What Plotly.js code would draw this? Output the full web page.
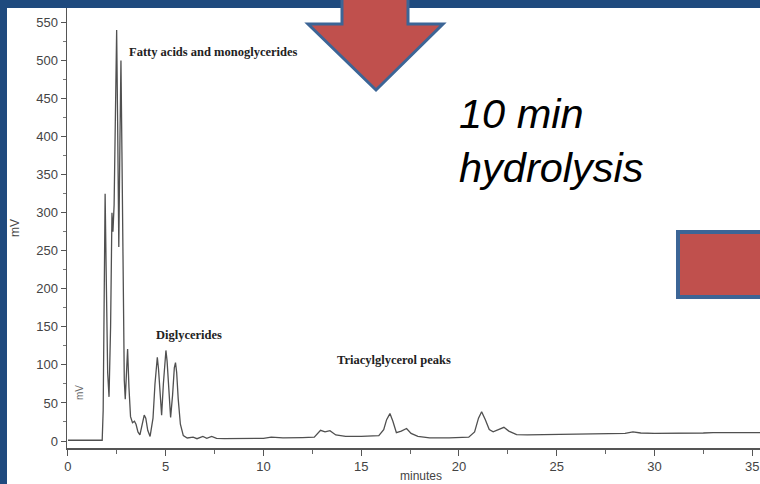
<!DOCTYPE html>
<html>
<head>
<meta charset="utf-8">
<script src="https://cdn.plot.ly/plotly-3.0.1.min.js"></script>
<style>
html,body{margin:0;padding:0;background:#ffffff;}
#chart{width:760px;height:484px;}
</style>
</head>
<body>
<div id="chart"></div>
<script>
// Retention time (minutes)
const timeMin = [0, 1.0, 1.2, 1.75, 1.8, 1.86, 1.9, 1.95, 2.03, 2.1, 2.18, 2.25, 2.3, 2.36, 2.42, 2.49, 2.54, 2.6, 2.66, 2.71, 2.76, 2.82, 2.88, 2.93, 3.0, 3.05, 3.12, 3.2, 3.3, 3.4, 3.48, 3.58, 3.68, 3.8, 3.9, 3.98, 4.08, 4.2, 4.35, 4.45, 4.52, 4.57, 4.63, 4.7, 4.79, 4.88, 4.96, 5.01, 5.07, 5.15, 5.25, 5.35, 5.44, 5.5, 5.56, 5.64, 5.75, 5.9, 6.1, 6.4, 6.6, 6.9, 7.1, 7.35, 7.6, 8.0, 9.0, 10.0, 10.4, 11.0, 12.0, 12.6, 12.92, 13.15, 13.4, 13.7, 14.2, 15.0, 15.9, 16.15, 16.3, 16.47, 16.62, 16.8, 17.05, 17.32, 17.55, 17.9, 18.5, 19.5, 20.5, 20.8, 21.0, 21.16, 21.35, 21.55, 21.75, 22.05, 22.3, 22.55, 22.95, 23.5, 25, 27, 28.5, 28.9, 29.3, 30, 31, 32.5, 33, 34, 35.4];
// Detector signal (mV)
const signalMV = [1, 1, 1.5, 1, 40, 280, 325, 230, 90, 58, 150, 300, 275, 310, 430, 540, 420, 255, 400, 500, 380, 200, 80, 55, 100, 121, 70, 32, 24, 26, 22, 12, 8, 20, 34, 30, 14, 6, 30, 75, 102, 110, 95, 60, 34, 75, 112, 119, 105, 65, 31, 60, 96, 103, 90, 55, 22, 7, 4, 5, 3, 6, 3.5, 6, 3.5, 3, 3, 3.5, 5, 4, 4.5, 5, 14, 12, 13.5, 8, 6, 6, 7, 15, 28, 36, 26, 11, 13, 16.5, 10, 6, 4, 4, 5, 12, 30, 38.5, 28, 15, 12, 15, 18, 13, 8.5, 8, 8.5, 9, 10, 12, 10.5, 10, 10, 10.5, 11, 11, 11];

const xTickVals = [0, 5, 10, 15, 20, 25, 30, 35];
const yTickVals = [0, 50, 100, 150, 200, 250, 300, 350, 400, 450, 500, 550];

const peakLabels = ["Fatty acids and monoglycerides", "Diglycerides", "Triacylglycerol peaks"];
const peakLabelX = [7.45, 6.2, 16.7];
const peakLabelY = [511, 139, 106];

const blue = "#1F4A7E";
const outline = "#3C6596";
const red = "#C0504D";

function px2x(p){ return (p - 67) / 693; }
function py2y(p){ return (448 - p) / 440; }

const trace = {
  x: timeMin, y: signalMV, type: "scatter", mode: "lines",
  line: {color: "#505050", width: 1.3}, hoverinfo: "skip"
};

const annotations = peakLabels.map((t, i) => ({
  text: "<b>" + t + "</b>", x: peakLabelX[i], y: peakLabelY[i], xref: "x", yref: "y",
  showarrow: false, font: {family: "Liberation Serif", size: 12.5, color: "#222"}
}));
annotations.push({
  text: "10 min<br>hydrolysis", xref: "paper", yref: "paper",
  x: px2x(457), y: py2y(88), xanchor: "left", yanchor: "top", align: "left",
  showarrow: false, font: {family: "Liberation Sans", size: 41.5, color: "#000", style: "italic"}
});
annotations.push({
  text: "mV", xref: "paper", yref: "paper", x: px2x(72), y: py2y(402),
  textangle: -90, showarrow: false, font: {family: "Liberation Sans", size: 10, color: "#666"}
});
annotations.push({
  text: "minutes", xref: "paper", yref: "paper", x: px2x(421), y: py2y(467),
  yanchor: "top", showarrow: false, font: {family: "Liberation Sans", size: 12, color: "#444"}
});

const shapes = [
  {type: "rect", xref: "paper", yref: "paper", x0: px2x(-5), x1: px2x(7), y0: py2y(500), y1: py2y(-5),
   fillcolor: blue, line: {width: 0}, layer: "below"},
  {type: "rect", xref: "paper", yref: "paper", x0: px2x(-5), x1: px2x(770), y0: py2y(8), y1: py2y(-5),
   fillcolor: blue, line: {width: 0}, layer: "below"},
  {type: "path", xref: "paper", yref: "paper",
   path: "M " + px2x(342) + "," + py2y(-8) + " L " + px2x(342) + "," + py2y(24) + " L " + px2x(308) + "," + py2y(24) +
         " L " + px2x(376) + "," + py2y(90) + " L " + px2x(443) + "," + py2y(24) + " L " + px2x(408) + "," + py2y(24) +
         " L " + px2x(408) + "," + py2y(-8) + " Z",
   fillcolor: red, line: {color: outline, width: 3}},
  {type: "rect", xref: "paper", yref: "paper", x0: px2x(678), x1: px2x(775), y0: py2y(297), y1: py2y(232),
   fillcolor: red, line: {color: outline, width: 4}}
];

const layout = {
  width: 760, height: 484,
  margin: {l: 67, r: 0, t: 8, b: 36, pad: 0},
  paper_bgcolor: "#ffffff", plot_bgcolor: "#ffffff",
  showlegend: false,
  font: {family: "Liberation Sans", color: "#444"},
  xaxis: {
    range: [-0.05, 35.4], tickvals: xTickVals, ticktext: xTickVals.map(String),
    ticks: "outside", ticklen: 6, tickwidth: 1, tickcolor: "#555",
    minor: {dtick: 2.5, tick0: 0, ticks: "outside", ticklen: 4, tickcolor: "#666", showgrid: false},
    showline: true, linecolor: "#555", linewidth: 1.5, showgrid: false, zeroline: false,
    tickfont: {size: 13, color: "#444"}
  },
  yaxis: {
    range: [-9.2, 569], tickvals: yTickVals, ticktext: yTickVals.map(String),
    ticks: "outside", ticklen: 5, tickwidth: 1, tickcolor: "#555",
    minor: {dtick: 25, tick0: 0, ticks: "outside", ticklen: 3, tickcolor: "#777", showgrid: false},
    showline: true, linecolor: "#555", linewidth: 1.5, showgrid: false, zeroline: false,
    tickfont: {size: 13, color: "#444"},
    title: {text: "mV", font: {size: 12, color: "#444"}, standoff: 14}
  },
  annotations: annotations,
  shapes: shapes
};

Plotly.newPlot("chart", [trace], layout, {displayModeBar: false, staticPlot: true});
</script>
</body>
</html>
